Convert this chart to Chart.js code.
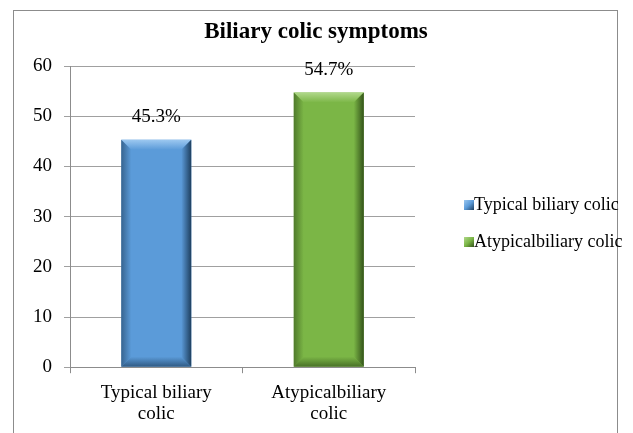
<!DOCTYPE html>
<html>
<head>
<meta charset="utf-8">
<script src="https://cdn.jsdelivr.net/npm/chart.js@4/dist/chart.umd.min.js"></script>
<style>
  html, body { margin: 0; padding: 0; background: #fff; }
  #wrap { position: relative; width: 633px; height: 433px; overflow: hidden; }
  #frame { position: absolute; left: 13px; top: 10px; width: 605px; height: 440px; border: 1px solid #8c8c8c; box-sizing: border-box; }
  #chart { position: absolute; left: 0; top: 0; }
</style>
</head>
<body>
<div id="wrap">
  <div id="frame"></div>
  <canvas id="chart" width="633" height="433"></canvas>
</div>
<script>
const title = 'Biliary colic symptoms';
const categories = ['Typical biliary colic', 'Atypicalbiliary colic'];
const tickLabels = [['Typical biliary', 'colic'], ['Atypicalbiliary', 'colic']];
const values = [45.3, 54.7];
const valueLabels = ['45.3%', '54.7%'];

const fills = ['#5b9bd9', '#7bb646'];
const lights = ['#9cc8f0', '#b0d88a'];
const darks = ['#1e3f5f', '#33531a'];

const serif = '"Liberation Serif", "Times New Roman", serif';

// bevel effect over each bar
const bevelPlugin = {
    id: 'bevel',
    afterDatasetsDraw(chart) {
        const ctx = chart.ctx;
        const meta = chart.getDatasetMeta(0);
        meta.data.forEach((bar, i) => {
            const p = bar.getProps(['x', 'y', 'base', 'width'], true);
            const l = p.x - p.width / 2, r = p.x + p.width / 2, t = p.y, b = p.base;
            const d = 10;
            ctx.save();
            // top
            let g = ctx.createLinearGradient(0, t, 0, t + d);
            g.addColorStop(0, lights[i]);
            g.addColorStop(1, fills[i]);
            ctx.fillStyle = g;
            ctx.beginPath();
            ctx.moveTo(l, t); ctx.lineTo(r, t); ctx.lineTo(r - d, t + d); ctx.lineTo(l + d, t + d);
            ctx.closePath(); ctx.fill();
            // bottom
            g = ctx.createLinearGradient(0, b - d, 0, b);
            g.addColorStop(0, fills[i]);
            g.addColorStop(1, darks[i]);
            ctx.fillStyle = g;
            ctx.globalAlpha = 0.7;
            ctx.beginPath();
            ctx.moveTo(l, b); ctx.lineTo(r, b); ctx.lineTo(r - d, b - d); ctx.lineTo(l + d, b - d);
            ctx.closePath(); ctx.fill();
            ctx.globalAlpha = 1;
            // right
            g = ctx.createLinearGradient(r - d, 0, r, 0);
            g.addColorStop(0, fills[i]);
            g.addColorStop(1, darks[i]);
            ctx.fillStyle = g;
            ctx.beginPath();
            ctx.moveTo(r, t); ctx.lineTo(r, b); ctx.lineTo(r - d, b - d); ctx.lineTo(r - d, t + d);
            ctx.closePath(); ctx.fill();
            // left
            g = ctx.createLinearGradient(l, 0, l + d, 0);
            g.addColorStop(0, darks[i]);
            g.addColorStop(1, fills[i]);
            ctx.fillStyle = g;
            ctx.globalAlpha = 0.6;
            ctx.beginPath();
            ctx.moveTo(l, t); ctx.lineTo(l + d, t + d); ctx.lineTo(l + d, b - d); ctx.lineTo(l, b);
            ctx.closePath(); ctx.fill();
            ctx.restore();
        });
    }
};

const valueLabelPlugin = {
    id: 'valueLabels',
    afterDatasetsDraw(chart) {
        const ctx = chart.ctx;
        const meta = chart.getDatasetMeta(0);
        ctx.save();
        ctx.font = '19px ' + serif;
        ctx.fillStyle = '#000';
        ctx.textAlign = 'center';
        ctx.textBaseline = 'middle';
        meta.data.forEach((bar, i) => {
            ctx.fillText(valueLabels[i], bar.x, bar.y - 23);
        });
        ctx.restore();
    }
};

// title centred on the whole frame, legend to the right of the plot
const decorPlugin = {
    id: 'decor',
    afterDraw(chart) {
        const ctx = chart.ctx;
        ctx.save();
        ctx.fillStyle = '#000';
        ctx.font = 'bold 23px ' + serif;
        ctx.textAlign = 'center';
        ctx.textBaseline = 'middle';
        ctx.fillText(title, 316, 32);

        const x = chart.chartArea.right + 49;
        ctx.font = '18px ' + serif;
        ctx.textAlign = 'left';
        categories.forEach((c, i) => {
            const y = 205 + i * 37;
            const g = ctx.createLinearGradient(x, y - 5, x + 10, y + 5);
            g.addColorStop(0, lights[i]);
            g.addColorStop(0.5, fills[i]);
            g.addColorStop(1, darks[i]);
            ctx.fillStyle = g;
            ctx.fillRect(x, y - 5, 10, 10);
            ctx.fillStyle = '#000';
            ctx.fillText(c, x + 10, y);
        });
        ctx.restore();
    }
};

new Chart(document.getElementById('chart').getContext('2d'), {
    type: 'bar',
    data: {
        labels: categories,
        datasets: [{
            data: values,
            backgroundColor: fills,
            borderWidth: 0,
            categoryPercentage: 1.0,
            barPercentage: 0.406
        }]
    },
    options: {
        responsive: false,
        animation: false,
        layout: { padding: { left: 21, right: 218, top: 66, bottom: 0 } },
        plugins: {
            title: { display: false },
            legend: { display: false },
            tooltip: { enabled: false }
        },
        scales: {
            y: {
                min: 0,
                max: 60,
                ticks: {
                    stepSize: 10,
                    color: '#000',
                    padding: 12,
                    font: { family: serif, size: 19 }
                },
                grid: { color: '#a0a0a0', tickLength: 6 },
                border: { color: '#8c8c8c' }
            },
            x: {
                ticks: {
                    color: '#000',
                    padding: 9,
                    font: { family: serif, size: 19, lineHeight: 1.1 },
                    callback: (v, i) => tickLabels[i]
                },
                grid: { display: true, drawOnChartArea: false, offset: true, color: '#8c8c8c', tickLength: 6 },
                border: { color: '#8c8c8c' }
            }
        }
    },
    plugins: [bevelPlugin, valueLabelPlugin, decorPlugin]
});
</script>
</body>
</html>
